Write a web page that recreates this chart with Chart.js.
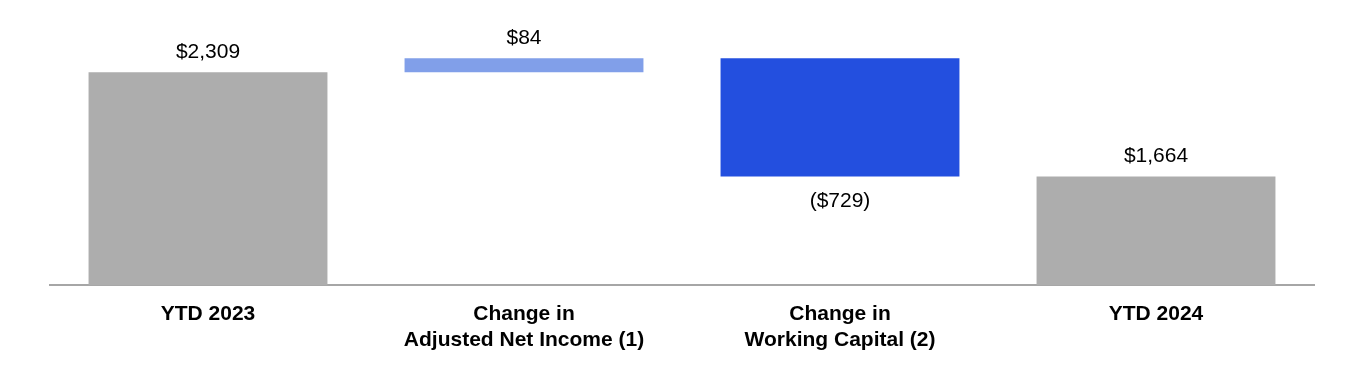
<!DOCTYPE html>
<html>
<head>
<meta charset="utf-8">
<script src="https://cdn.jsdelivr.net/npm/chart.js@4"></script>
<style>
    html, body { margin: 0; padding: 0; background: #fff; }
    #wrap { width: 1364px; height: 370px; position: relative; }
</style>
</head>
<body>
<div id="wrap"><canvas id="bridgeChart"></canvas></div>
<script>
// Cash flow bridge data (bar extents, labels as printed)
const categories = [['YTD 2023'], ['Change in', 'Adjusted Net Income (1)'], ['Change in', 'Working Capital (2)'], ['YTD 2024']];
const barStart = [0, 2309, 2461, 0];
const barEnd = [2309, 2461, 1179, 1179];
const valueLabels = ['$2,309', '$84', '($729)', '$1,664'];
const barColors = ['#adadad', '#819fe9', '#234fdf', '#adadad'];

const fontFamily = '"Liberation Sans", Arial, Helvetica, sans-serif';

// Draw value labels above (or below for decreases) each bar
const valueLabelPlugin = {
    id: 'valueLabels',
    afterDatasetsDraw(chart) {
        const ctx = chart.ctx;
        const meta = chart.getDatasetMeta(0);
        ctx.save();
        ctx.font = '21px ' + fontFamily;
        ctx.fillStyle = '#000';
        ctx.textAlign = 'center';
        ctx.textBaseline = 'middle';
        meta.data.forEach((bar, i) => {
            const top = Math.min(bar.y, bar.base);
            const bottom = Math.max(bar.y, bar.base);
            const down = barEnd[i] < barStart[i];
            const y = down ? bottom + 25 : top - 20;
            ctx.fillText(valueLabels[i], bar.x, y);
        });
        ctx.restore();
    }
};

const ctx = document.getElementById('bridgeChart').getContext('2d');
new Chart(ctx, {
    type: 'bar',
    data: {
        labels: categories,
        datasets: [{
            data: barStart.map((s, i) => [s, barEnd[i]]),
            backgroundColor: barColors,
            borderWidth: 0,
            categoryPercentage: 1,
            barPercentage: 0.756
        }]
    },
    options: {
        responsive: true,
        maintainAspectRatio: false,
        animation: false,
        layout: { padding: { left: 50, right: 50, top: 20, bottom: 1.5 } },
        plugins: { legend: { display: false }, tooltip: { enabled: false } },
        scales: {
            x: {
                grid: { display: false, drawTicks: false, tickLength: 0 },
                border: { display: true, color: '#a6a6a6', width: 2 },
                ticks: {
                    color: '#000',
                    padding: 15.5,
                    maxRotation: 0,
                    autoSkip: false,
                    font: { family: fontFamily, size: 21, weight: 'bold', lineHeight: 1.24 }
                }
            },
            y: {
                display: false,
                min: 0,
                max: 2874
            }
        }
    },
    plugins: [valueLabelPlugin]
});
</script>
</body>
</html>
